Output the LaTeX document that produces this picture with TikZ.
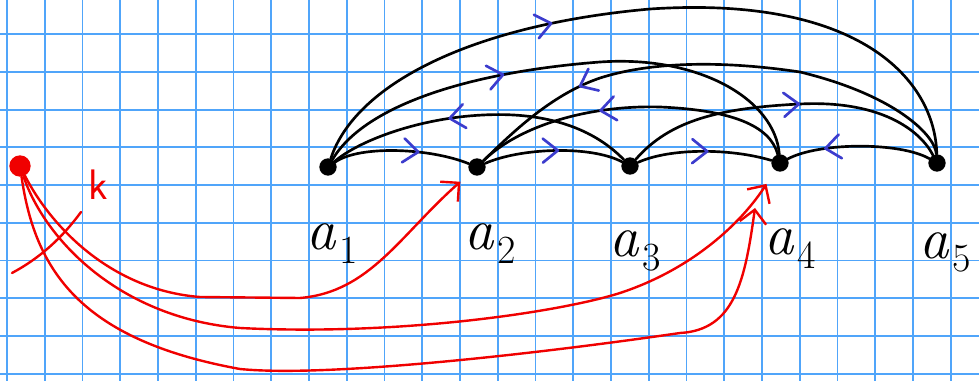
\documentclass[tikz,border=0pt]{standalone}
\usepackage{fontspec}
\usetikzlibrary{arrows.meta,decorations.markings}

\definecolor{gridblue}{RGB}{80,165,250}
\definecolor{penblue}{RGB}{60,60,205}
\definecolor{penred}{RGB}{240,0,0}
\newcommand{\alab}[1]{\textit{a}\hspace{2pt}\raisebox{-10pt}{\fontsize{30}{30}\selectfont #1}}

\tikzset{
  gridline/.style={gridblue,line width=1.4pt},
  vertex/.style={circle,fill=black,inner sep=0pt,minimum size=13pt},
  edge/.style={line width=2pt,line cap=round},
  dirmark/.style={postaction={decorate,decoration={markings,
    mark=at position #1 with {\draw[penblue,line width=2pt,line cap=round,line join=round] (-15,12) -- (0,0) -- (-15,-12);}}}},
  redpath/.style={penred,line width=1.8pt,line cap=round},
  redarrow/.style={redpath,-{Straight Barb[length=10pt,width=20pt]}},
  vlabel/.style={inner sep=0pt,anchor=base west,font=\fontsize{44}{44}\selectfont},
}

\begin{document}
\begin{tikzpicture}[x=0.75pt,y=-0.75pt]
\useasboundingbox (0,0) rectangle (979,381);
% squared paper
\foreach \gx in {0,...,25}
  \draw[gridline] ({7+37.75*\gx},0) -- ({7+37.75*\gx},381);
\foreach \gy in {0,...,9}
  \draw[gridline] (0,{34.3+37.7*\gy}) -- (979,{34.3+37.7*\gy});

\node[vertex] (a1) at (328,167) {};
\node[vertex] (a2) at (477,167) {};
\node[vertex] (a3) at (630,166) {};
\node[vertex] (a4) at (780,163) {};
\node[vertex] (a5) at (937,163) {};
\node[vertex,fill=penred,minimum size=16pt] (kdot) at (20,166) {};
\coordinate (t4) at (755,208);

\node[vlabel] (la1) at (306,250) {\alab{1}};
\node[vlabel] (la2) at (464,250) {\alab{2}};
\node[vlabel] (la3) at (609,257) {\alab{3}};
\node[vlabel] (la4) at (764,255) {\alab{4}};
\node[vlabel] (la5) at (919,258) {\alab{5}};
\node[text=penred,inner sep=0pt,font=\sffamily\fontsize{32}{32}\selectfont] (klabel) at (98,185) {k};

% red paths from k
\draw[redpath] (12,273) .. controls (40,258) and (62,238) .. (81,212);
\draw[redarrow,shorten >=10pt] (kdot) .. controls (50,225) and (110,290) .. (200,297) -- (300,298)
  .. controls (370,292) and (400,235) .. (a2);
\draw[redarrow,shorten >=12pt] (kdot) .. controls (45,240) and (120,318) .. (240,328)
  .. controls (400,336) and (560,312) .. (620,293) .. controls (690,270) and (740,225) .. (a4);
\draw[redarrow] (kdot) .. controls (35,270) and (80,340) .. (240,369)
  .. controls (330,378) and (550,352) .. (680,333) .. controls (735,330) and (745,280) .. (t4);

% edges
\draw[edge,dirmark=0.62] (a1) .. controls (360,145) and (430,148) .. (a2);
\draw[edge,dirmark=0.53] (a2) .. controls (520,148) and (590,145) .. (a3);
\draw[edge,dirmark=0.52] (a3) .. controls (670,148) and (730,148) .. (a4);
\draw[edge,dirmark=0.73] (a5) .. controls (900,142) and (820,142) .. (a4);
\draw[edge,dirmark=0.6] (a3) .. controls (590,125) and (540,112) .. (483,115)
  .. controls (420,118) and (360,140) .. (a1);
\draw[edge,dirmark=0.38] (a1) .. controls (365,105) and (470,72) .. (600,62)
  .. controls (700,55) and (775,100) .. (a4);
\draw[edge,dirmark=0.37] (a1) .. controls (355,85) and (470,25) .. (650,9)
  .. controls (860,-5) and (935,80) .. (a5);
\draw[edge,dirmark=0.76] (a5) .. controls (935,135) and (895,95) .. (800,72)
  .. controls (720,60) and (650,62) .. (600,78) .. controls (550,95) and (510,135) .. (a2);
\draw[edge,dirmark=0.6] (a4) .. controls (770,125) and (730,110) .. (660,107)
  .. controls (590,105) and (520,125) .. (a2);
\draw[edge,dirmark=0.54] (a3) .. controls (670,120) and (720,108) .. (800,104)
  .. controls (880,100) and (920,130) .. (a5);
\end{tikzpicture}
\end{document}
